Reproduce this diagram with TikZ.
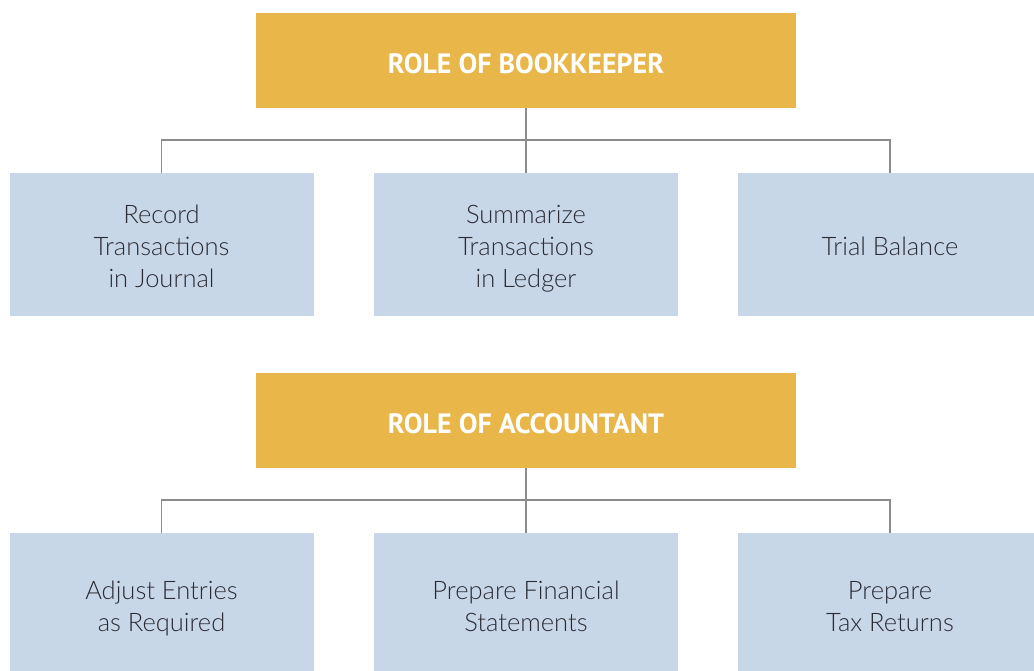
\documentclass[tikz,border=0pt]{standalone}
\usepackage{fontspec}
\setmainfont{Lato Light}
\newfontfamily\headfont{PT Sans}
\definecolor{headgold}{HTML}{E9B649}
\definecolor{taskblue}{HTML}{C8D7E7}
\definecolor{linkgray}{HTML}{8C8C8C}
\definecolor{taskink}{HTML}{2B2B33}
\tikzset{
  headbox/.style={fill=headgold, minimum width=540pt, inner sep=0pt,
    text height=60pt, text depth=35pt,
    text=white, font=\headfont\bfseries\fontsize{28}{32}\selectfont},
  taskbox/.style={fill=taskblue, minimum width=304pt, inner sep=0pt,
    align=center, text=taskink, font=\fontsize{25.5}{32}\selectfont},
  % last baseline set by the number of lines
  oneline/.style={taskbox, text height=82pt, text depth=61pt},
  twoline/.style={taskbox, text height=98pt, text depth=45pt},
  threeline/.style={taskbox, text height=114pt, text depth=29pt},
  link/.style={draw=linkgray, line width=1.6pt}
}
\begin{document}
\begin{tikzpicture}[x=1pt,y=-1pt]
  \useasboundingbox (0,0) rectangle (1034,670);

  % Drawing bookkeeper block
  \node [headbox] (book) at (526,60.5) {ROLE OF BOOKKEEPER};
  \node [threeline] (rec) at (161.5,244.5) {Record\\Transactions\\in Journal};
  \node [threeline] (sum) at (526,244.5) {Summarize\\Transactions\\in Ledger};
  \node [oneline] (bal) at (890,244.5) {Trial Balance};

  % Connecting bookkeeper block
  \draw [link] (book.south) -- (sum.north);
  \draw [link] (rec.north) -- ++(0,-33) -| (bal.north);

  % Drawing accountant block
  \node [headbox] (acc) at (526,420.5) {ROLE OF ACCOUNTANT};
  \node [twoline] (adj) at (161.5,604.5) {Adjust Entries\\as Required};
  \node [twoline] (fin) at (526,604.5) {Prepare Financial\\Statements};
  \node [twoline] (tax) at (890,604.5) {Prepare\\Tax Returns};

  % Connecting accountant block
  \draw [link] (acc.south) -- (fin.north);
  \draw [link] (adj.north) -- ++(0,-33) -| (tax.north);
\end{tikzpicture}
\end{document}
